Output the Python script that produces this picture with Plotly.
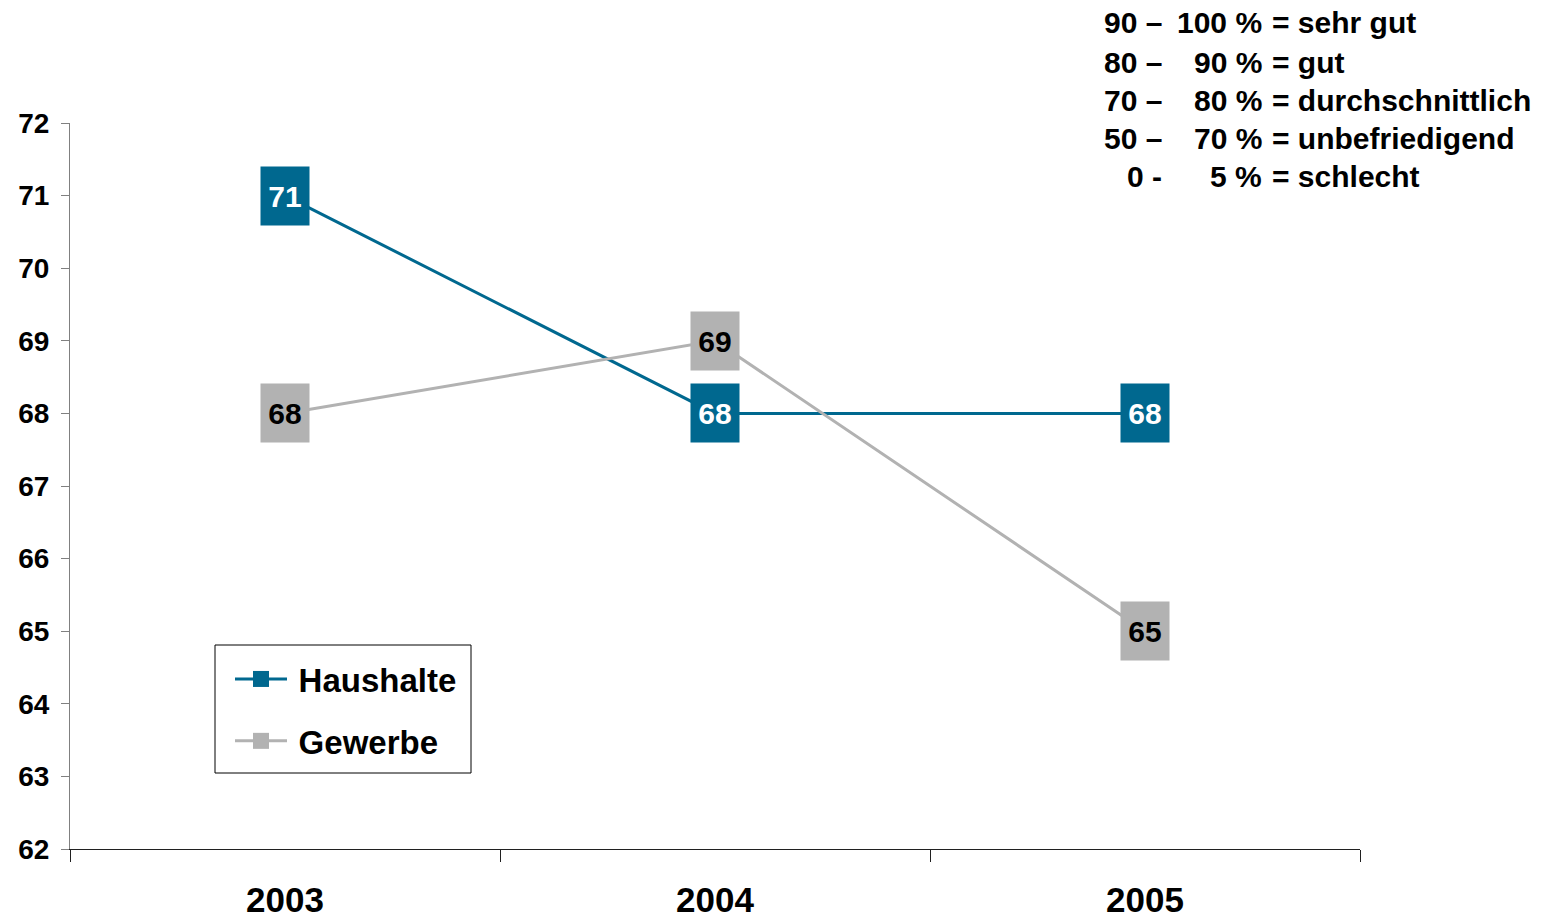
import plotly.graph_objects as go

years = ["2003", "2004", "2005"]
haushalte = [71, 68, 68]
gewerbe = [68, 69, 65]

scale_left = ["90 –", "80 –", "70 –", "50 –", "0 -"]
scale_mid = ["100 %", "90 %", "80 %", "70 %", "5 %"]
scale_right = ["= sehr gut", "= gut", "= durchschnittlich", "= unbefriedigend", "= schlecht"]

BLUE = "#00688F"
GREY = "#B2B2B2"
FONT = "Liberation Sans, Arial, sans-serif"

W, H = 1553, 920
ml, mr, mt, mb = 70, 193, 123, 71
pw, ph = W - ml - mr, H - mt - mb


def fx(px):
    """pixel column -> x paper fraction"""
    return (px - ml) / pw


def fy(py):
    """pixel row -> y paper fraction"""
    return (H - mb - py) / ph


fig = go.Figure()
series = [("Haushalte", haushalte, BLUE, "white"), ("Gewerbe", gewerbe, GREY, "black")]
for name, vals, col, _ in series:
    fig.add_trace(go.Scatter(
        x=years, y=vals, name=f"<b>\u2009{name}</b>", mode="lines+markers",
        legendgroup=name,
        line=dict(color=col, width=3),
        marker=dict(symbol="square", size=24, color=col),
    ))

# value boxes on each point
for name, vals, col, txtcol in series:
    for i, v in enumerate(vals):
        fig.add_annotation(
            x=i, y=v, xref="x", yref="y", text=f"<b>{v}</b>", showarrow=False,
            font=dict(family=FONT, size=30, color=txtcol),
            bgcolor=col, width=46, height=56, borderpad=1,
        )

# rating scale text block
line_y = [23, 62, 100, 138, 177]
for i in range(len(scale_left)):
    yy = fy(line_y[i])
    common = dict(xref="paper", yref="paper", yanchor="middle", showarrow=False,
                  font=dict(family=FONT, size=30, color="black"))
    fig.add_annotation(x=fx(1164), y=yy, xanchor="right", text=f"<b>{scale_left[i]}</b>", **common)
    fig.add_annotation(x=fx(1264), y=yy, xanchor="right", text=f"<b>{scale_mid[i]}</b>", **common)
    fig.add_annotation(x=fx(1270), y=yy, xanchor="left", text=f"<b>{scale_right[i]}</b>", **common)

# legend frame
fig.add_shape(type="rect", xref="paper", yref="paper",
              x0=fx(215), x1=fx(471), y0=fy(773), y1=fy(645),
              line=dict(color="black", width=1), fillcolor="white", layer="below")

fig.update_layout(
    width=W, height=H,
    margin=dict(l=ml, r=mr, t=mt, b=mb),
    paper_bgcolor="white", plot_bgcolor="white",
    font=dict(family=FONT, color="black"),
    showlegend=True,
    legend=dict(
        x=fx(230), y=fy(651), xanchor="left", yanchor="top",
        bgcolor="rgba(0,0,0,0)", borderwidth=0,
        font=dict(family=FONT, size=33, color="black"),
        itemwidth=52, itemsizing="trace", tracegroupgap=16,
    ),
    xaxis=dict(
        type="category", range=[-0.5, 2.5], tickson="boundaries", automargin=False,
        ticks="outside", ticklen=12, tickcolor="#202020", tickwidth=1,
        showline=True, linecolor="#202020", linewidth=1,
        showgrid=False, zeroline=False,
        tickfont=dict(family=FONT, size=35, color="black"),
        ticklabelstandoff=20,
        tickprefix="<b>", ticksuffix="</b>",
    ),
    yaxis=dict(
        range=[62, 72], dtick=1, tick0=62, automargin=False,
        ticks="outside", ticklen=8, tickcolor="#808080", tickwidth=1,
        showline=True, linecolor="#808080", linewidth=1,
        showgrid=False, zeroline=False,
        tickfont=dict(family=FONT, size=28, color="black"),
        tickprefix="<b>", ticksuffix="</b>",
        ticklabelstandoff=6,
    ),
)

fig.write_html("out.html")
